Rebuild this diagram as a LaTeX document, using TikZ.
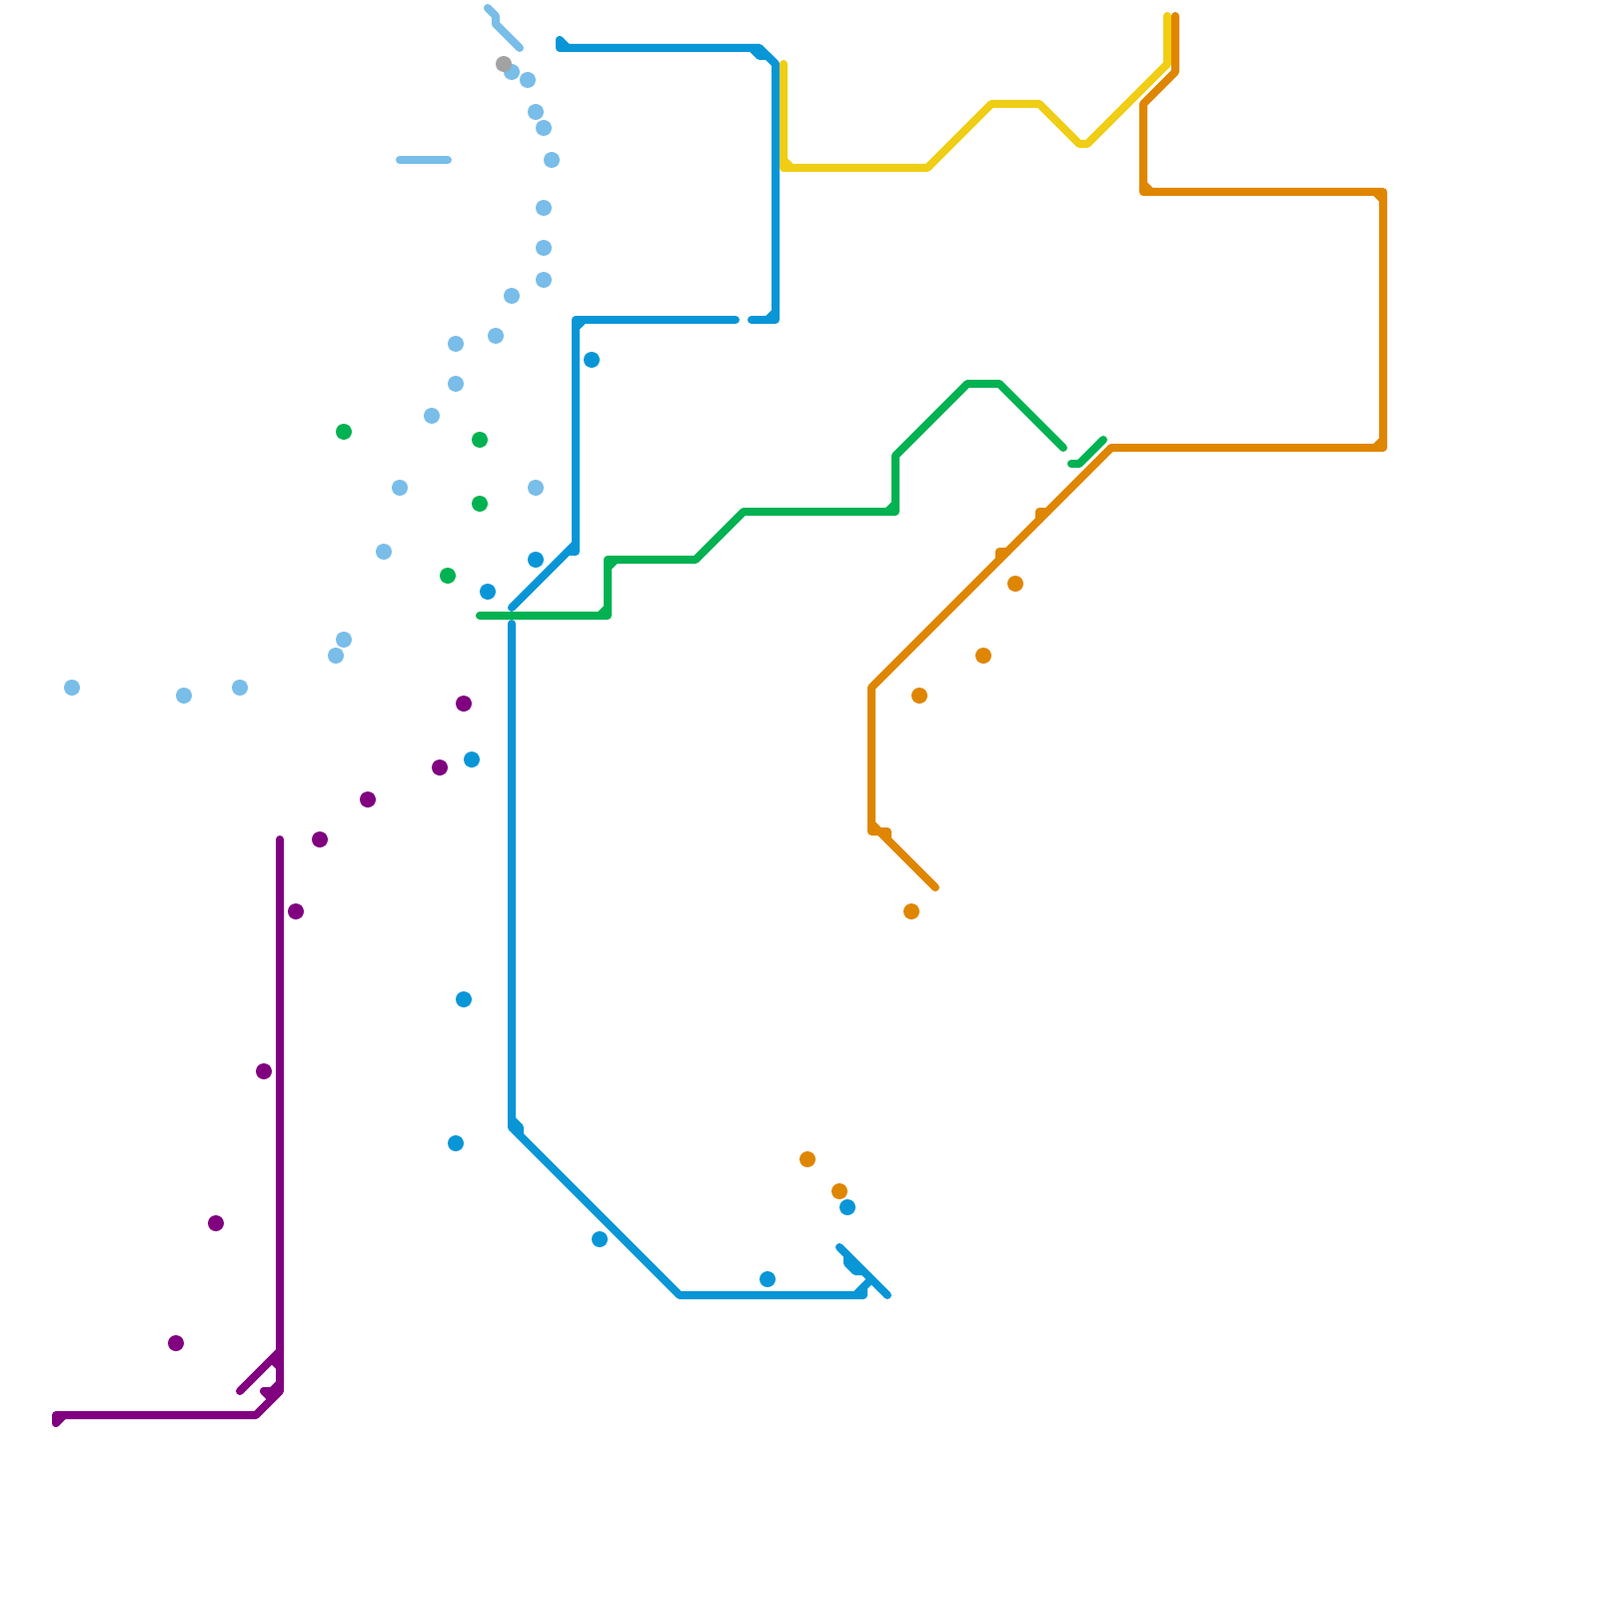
\documentclass[tikz,border=0pt]{standalone}
\usepackage{tikz}
\usepackage{xcolor}
\definecolor{linesky}{HTML}{79BDE9}
\definecolor{lineblue}{HTML}{0896D7}
\definecolor{linegreen}{HTML}{00B251}
\definecolor{linepurple}{HTML}{800080}
\definecolor{lineorange}{HTML}{DF8600}
\definecolor{lineyellow}{HTML}{F0CE15}
\definecolor{stopgrey}{HTML}{A2A2A2}

\begin{document}
\begin{tikzpicture}[
    x=0.08cm, y=-0.08cm,
    trk/.style={line width=0.08cm, line cap=round, line join=round},
    sky/.style={trk, linesky},
    blu/.style={trk, lineblue},
    grn/.style={trk, linegreen},
    pur/.style={trk, linepurple},
    org/.style={trk, lineorange},
    yel/.style={trk, lineyellow},
    stn/.style={circle, inner sep=0pt, minimum size=0.16cm}
]
\useasboundingbox (0,0) rectangle (200,200);

% sky line
\draw[sky] (61,1) -- (62,2) -- (62,3) -- (65,6);
\draw[sky] (50,20) -- (56,20);

% sky stops
\node[stn, fill=linesky] (sky1) at (64,9) {};
\node[stn, fill=linesky] (sky2) at (66,10) {};
\node[stn, fill=linesky] (sky3) at (67,14) {};
\node[stn, fill=linesky] (sky4) at (68,16) {};
\node[stn, fill=linesky] (sky5) at (69,20) {};
\node[stn, fill=linesky] (sky6) at (68,26) {};
\node[stn, fill=linesky] (sky7) at (68,31) {};
\node[stn, fill=linesky] (sky8) at (68,35) {};
\node[stn, fill=linesky] (sky9) at (64,37) {};
\node[stn, fill=linesky] (sky10) at (62,42) {};
\node[stn, fill=linesky] (sky11) at (57,43) {};
\node[stn, fill=linesky] (sky12) at (57,48) {};
\node[stn, fill=linesky] (sky13) at (54,52) {};
\node[stn, fill=linesky] (sky14) at (50,61) {};
\node[stn, fill=linesky] (sky15) at (67,61) {};
\node[stn, fill=linesky] (sky16) at (48,69) {};
\node[stn, fill=linesky] (sky17) at (43,80) {};
\node[stn, fill=linesky] (sky18) at (42,82) {};
\node[stn, fill=linesky] (sky19) at (30,86) {};
\node[stn, fill=linesky] (sky20) at (23,87) {};
\node[stn, fill=linesky] (sky21) at (9,86) {};
\node[stn, fill=stopgrey] (grey1) at (63,8) {};

% blue line
\draw[blu] (70,5) -- (70,6) -- (95,6) -- (97,8) -- (97,40) -- (94,40);
\draw[blu] (70,5) -- (71,6);
\draw[blu] (94,6) -- (95,7) -- (96,7) -- (97,8);
\draw[blu] (96,40) -- (97,39);
\draw[blu] (92,40) -- (72,40) -- (72,69) -- (71,69);
\draw[blu] (72,41) -- (73,40);
\draw[blu] (72,68) -- (64,76);
\draw[blu] (64,78) -- (64,141) -- (85,162) -- (108,162) -- (108,161);
\draw[blu] (64,140) -- (65,141) -- (65,142);
\draw[blu] (107,162) -- (109,160);
\draw[blu] (105,156) -- (111,162);
\draw[blu] (106,157) -- (106,158) -- (107,159) -- (108,159);

% blue stops
\node[stn, fill=lineblue] (blu1) at (74,45) {};
\node[stn, fill=lineblue] (blu2) at (67,70) {};
\node[stn, fill=lineblue] (blu3) at (61,74) {};
\node[stn, fill=lineblue] (blu4) at (59,95) {};
\node[stn, fill=lineblue] (blu5) at (58,125) {};
\node[stn, fill=lineblue] (blu6) at (57,143) {};
\node[stn, fill=lineblue] (blu7) at (75,155) {};
\node[stn, fill=lineblue] (blu8) at (96,160) {};
\node[stn, fill=lineblue] (blu9) at (106,151) {};

% green line
\draw[grn] (60,77) -- (76,77) -- (76,70) -- (87,70) -- (93,64) -- (112,64) -- (112,57) -- (121,48) -- (125,48) -- (133,56);
\draw[grn] (75,77) -- (76,76);
\draw[grn] (76,71) -- (77,70);
\draw[grn] (111,64) -- (112,63);
\draw[grn] (134,58) -- (135,58) -- (138,55);

% green stops
\node[stn, fill=linegreen] (grn1) at (43,54) {};
\node[stn, fill=linegreen] (grn2) at (60,55) {};
\node[stn, fill=linegreen] (grn3) at (60,63) {};
\node[stn, fill=linegreen] (grn4) at (56,72) {};

% purple line
\draw[pur] (35,105) -- (35,174) -- (32,177) -- (7,177) -- (7,178) -- (8,177);
\draw[pur] (30,174) -- (35,169);
\draw[pur] (34,170) -- (35,171);
\draw[pur] (33,174) -- (34,174) -- (35,173);
\draw[pur] (33,174) -- (34,175);

% purple stops
\node[stn, fill=linepurple] (pur1) at (58,88) {};
\node[stn, fill=linepurple] (pur2) at (55,96) {};
\node[stn, fill=linepurple] (pur3) at (46,100) {};
\node[stn, fill=linepurple] (pur4) at (40,105) {};
\node[stn, fill=linepurple] (pur5) at (37,114) {};
\node[stn, fill=linepurple] (pur6) at (33,134) {};
\node[stn, fill=linepurple] (pur7) at (27,153) {};
\node[stn, fill=linepurple] (pur8) at (22,168) {};

% yellow line
\draw[yel] (98,8) -- (98,21) -- (116,21) -- (124,13) -- (130,13) -- (135,18) -- (136,18) -- (146,8) -- (146,2);
\draw[yel] (98,20) -- (99,21);

% orange line
\draw[org] (147,2) -- (147,9) -- (143,13) -- (143,24) -- (173,24) -- (173,56) -- (139,56) -- (109,86) -- (109,104) -- (111,104) -- (111,105);
\draw[org] (143,23) -- (144,24);
\draw[org] (172,24) -- (173,25);
\draw[org] (172,56) -- (173,55);
\draw[org] (130,65) -- (130,64) -- (131,64);
\draw[org] (125,70) -- (125,69) -- (126,69);
\draw[org] (109,103) -- (117,111);

% orange stops
\node[stn, fill=lineorange] (org1) at (127,73) {};
\node[stn, fill=lineorange] (org2) at (123,82) {};
\node[stn, fill=lineorange] (org3) at (115,87) {};
\node[stn, fill=lineorange] (org4) at (114,114) {};
\node[stn, fill=lineorange] (org5) at (101,145) {};
\node[stn, fill=lineorange] (org6) at (105,149) {};

\end{tikzpicture}
\end{document}
